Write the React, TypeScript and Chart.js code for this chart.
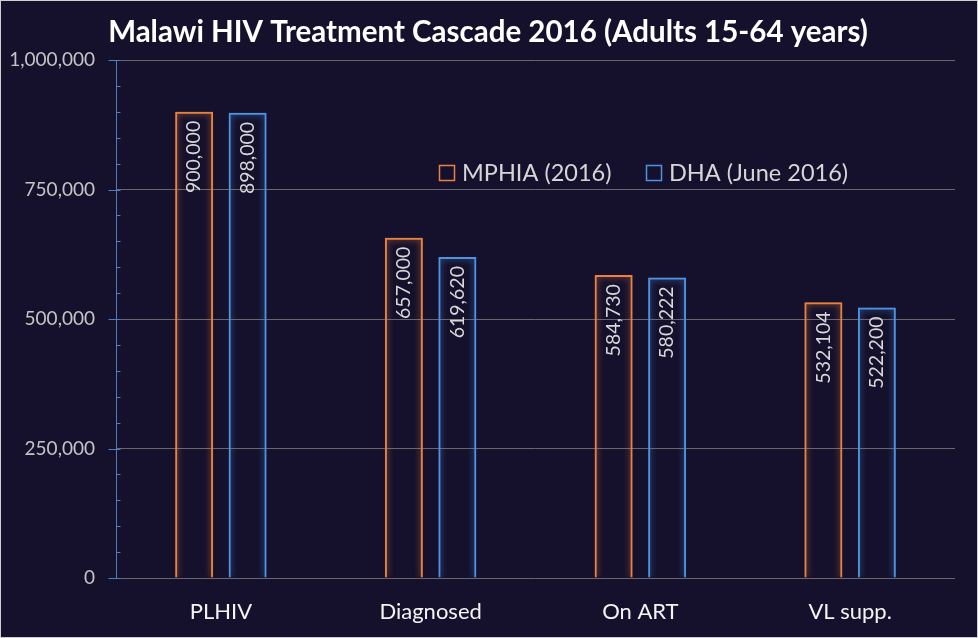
import React, { useEffect, useRef } from "react";
import { Chart, registerables } from "chart.js";

Chart.register(...registerables);

const categories = ["PLHIV", "Diagnosed", "On ART", "VL supp."];
const mphiaValues = [900000, 657000, 584730, 532104];
const dhaValues = [898000, 619620, 580222, 522200];
const seriesLabels = ["MPHIA (2016)", "DHA (June 2016)"];
const titleText = "Malawi HIV Treatment Cascade 2016 (Adults 15-64 years)";

const ORANGE = "#E8823E";
const BLUE = "#4C93E0";
const BG = "#15112D";
const FONT = "Lato, 'Open Sans', sans-serif";

const fmt = (v: number) => v.toLocaleString("en-US");

const decorPlugin = {
  id: "decor",
  beforeDraw(chart: any) {
    const { ctx, width, height } = chart;
    ctx.save();
    ctx.fillStyle = BG;
    ctx.fillRect(0, 0, width, height);
    ctx.strokeStyle = "#D0D0D0";
    ctx.lineWidth = 1;
    ctx.strokeRect(0.5, 0.5, width - 1, height - 1);
    ctx.fillStyle = "#FFFFFF";
    ctx.font = `bold 29.5px ${FONT}`;
    ctx.textAlign = "center";
    ctx.textBaseline = "middle";
    ctx.fillText(titleText, 488, 32);
    ctx.restore();
  },
  afterDraw(chart: any) {
    const { ctx, chartArea, scales } = chart;
    const y = scales.y;
    const ax = Math.round(chartArea.left) + 0.5;
    ctx.save();
    ctx.strokeStyle = "#4A7FC0";
    ctx.lineWidth = 1;
    ctx.beginPath();
    ctx.moveTo(ax, y.getPixelForValue(1000000));
    ctx.lineTo(ax, y.getPixelForValue(0));
    ctx.stroke();
    for (let v = 0; v <= 1000000; v += 50000) {
      const py = Math.round(y.getPixelForValue(v)) + 0.5;
      ctx.beginPath();
      if (v % 250000 === 0) {
        ctx.moveTo(ax - 8, py);
      } else {
        ctx.moveTo(ax, py);
      }
      ctx.lineTo(ax + 4, py);
      ctx.stroke();
    }
    // legend
    const items = [
      { x: 439, color: ORANGE, label: seriesLabels[0] },
      { x: 646, color: BLUE, label: seriesLabels[1] },
    ];
    ctx.font = `23.5px ${FONT}`;
    ctx.textBaseline = "middle";
    ctx.textAlign = "left";
    for (const it of items) {
      ctx.strokeStyle = it.color;
      ctx.lineWidth = 1.5;
      ctx.strokeRect(it.x + 0.5, 165.5, 15, 15);
      ctx.fillStyle = "#D6D6D6";
      ctx.fillText(it.label, it.x + 23, 173);
    }
    // value labels
    ctx.font = `19.5px ${FONT}`;
    ctx.fillStyle = "#D8D8D8";
    ctx.textAlign = "right";
    ctx.textBaseline = "middle";
    chart.data.datasets.forEach((ds: any, di: number) => {
      const meta = chart.getDatasetMeta(di);
      meta.data.forEach((bar: any, i: number) => {
        ctx.save();
        ctx.translate(bar.x, bar.y + 9);
        ctx.rotate(-Math.PI / 2);
        ctx.fillText(fmt(ds.data[i]), 0, 0);
        ctx.restore();
      });
    });
    ctx.restore();
  },
  beforeDatasetDraw(chart: any, args: any) {
    const ctx = chart.ctx;
    ctx.save();
    ctx.shadowColor = args.index === 0 ? "rgba(232,130,62,0.8)" : "rgba(76,147,224,0.8)";
    ctx.shadowBlur = 6;
  },
  afterDatasetDraw(chart: any) {
    chart.ctx.restore();
  },
};

export default function App() {
  const ref = useRef<HTMLCanvasElement>(null);
  useEffect(() => {
    if (!ref.current) return;
    const chart = new Chart(ref.current, {
      type: "bar",
      data: {
        labels: categories,
        datasets: [
          {
            label: seriesLabels[0],
            data: mphiaValues,
            backgroundColor: "rgba(0,0,0,0)",
            borderColor: ORANGE,
            borderWidth: 2,
            categoryPercentage: 0.51,
            barPercentage: 0.71,
          },
          {
            label: seriesLabels[1],
            data: dhaValues,
            backgroundColor: "rgba(0,0,0,0)",
            borderColor: BLUE,
            borderWidth: 2,
            categoryPercentage: 0.51,
            barPercentage: 0.71,
          },
        ],
      },
      options: {
        animation: false,
        responsive: false,
        devicePixelRatio: 1,
        layout: { padding: { top: 60, right: 23, left: 0, bottom: 0 } },
        plugins: {
          legend: { display: false },
          title: { display: false },
          tooltip: { enabled: false },
        },
        scales: {
          x: {
            grid: { display: false, drawTicks: false },
            border: { display: false },
            ticks: {
              color: "#F4F4F4",
              font: { family: FONT, size: 22 },
              padding: 21,
            },
            afterFit: (s: any) => {
              s.height = 60;
            },
          },
          y: {
            min: 0,
            max: 1000000,
            grid: { color: "rgba(140,140,140,0.7)", drawTicks: false, lineWidth: 1 },
            border: { display: false },
            ticks: {
              stepSize: 250000,
              color: "#C4C4C4",
              font: { family: FONT, size: 19 },
              padding: 21,
              callback: (v: any) => fmt(Number(v)),
            },
            afterFit: (s: any) => {
              s.width = 116;
            },
          },
        },
      },
      plugins: [decorPlugin],
    });
    return () => chart.destroy();
  }, []);
  return (
    <div style={{ position: "absolute", left: 0, top: 0, width: 978, height: 638 }}>
      <canvas ref={ref} width={978} height={638} style={{ display: "block" }} />
    </div>
  );
}
